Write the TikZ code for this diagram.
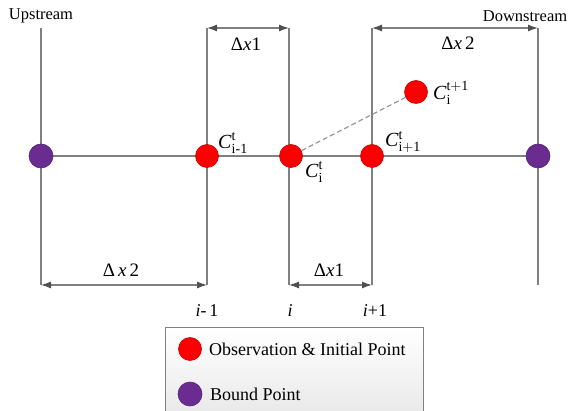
\documentclass[tikz,border=0pt]{standalone}
\usepackage{amsmath}
\usepackage{fontspec}
\setmainfont{Liberation Serif}
\setmathrm{Liberation Serif}
\usetikzlibrary{arrows.meta,backgrounds}
\definecolor{lineg}{RGB}{128,128,128}
\definecolor{dashg}{RGB}{150,150,150}
\definecolor{arrowg}{RGB}{80,80,80}
\definecolor{dotred}{RGB}{250,0,0}
\definecolor{dotpurple}{RGB}{106,44,145}
\tikzset{
  gridline/.style={draw=lineg, line width=1.2pt},
  dimline/.style={draw=lineg, line width=1.2pt, {Latex[length=10pt,width=7pt,color=arrowg]}-{Latex[length=10pt,width=7pt,color=arrowg]}},
  reddot/.style={circle, fill=dotred, draw=red!80!black, line width=0.6pt, minimum size=23pt, inner sep=0pt},
  purpledot/.style={circle, fill=dotpurple, draw=dotpurple!80!black, line width=0.6pt, minimum size=24pt, inner sep=0pt},
  lbl/.style={inner sep=0pt, font=\fontsize{20}{22}\selectfont},
  dimlbl/.style={inner sep=0pt, font=\fontsize{19}{21}\selectfont},
  idx/.style={inner sep=0pt, font=\fontsize{18}{20}\selectfont},
  endlbl/.style={inner sep=0pt, font=\fontsize{16.5}{18}\selectfont},
  legtext/.style={inner sep=0pt, anchor=west, font=\fontsize{18}{20}\selectfont},
  legbox/.style={draw=lineg, line width=1pt, top color=white, bottom color=black!10, inner sep=0pt}
}
\newcommand{\CC}[2]{\textit{C}$^{\mathrm{#1}}_{\mathrm{#2}}$}
\begin{document}
\begin{tikzpicture}[x=1pt,y=-1pt]
\useasboundingbox (0,0) rectangle (572,411);
% grid coordinates
\coordinate (tU) at (41,28);   \coordinate (bU) at (41,285);
\coordinate (tA) at (207,28);  \coordinate (bA) at (207,285);
\coordinate (tB) at (289,28);  \coordinate (bB) at (289,285);
\coordinate (tC) at (372,28);  \coordinate (bC) at (372,285);
\coordinate (tD) at (538,28);  \coordinate (bD) at (538,285);
% dots
\node[purpledot] (up) at (41,156) {};
\node[reddot] (ca) at (207,156) {};
\node[reddot] (cb) at (291,156) {};
\node[reddot] (cc) at (372,156) {};
\node[purpledot] (dn) at (538,156) {};
\node[reddot] (cn) at (416,92) {};
\begin{scope}[on background layer]
  \draw[gridline] (up.center) -- (dn.center);
  \draw[gridline] (tU) -- (bU);
  \draw[gridline] (tA) -- (bA);
  \draw[gridline] (tB) -- (bB);
  \draw[gridline] (tC) -- (bC);
  \draw[gridline] (tD) -- (bD);
\end{scope}
\draw[draw=dashg, line width=1.2pt, dash pattern=on 5pt off 3pt] (cb) -- (cn);
% dimension arrows
\draw[dimline] (tA) -- (tB);
\draw[dimline] (tC) -- (tD);
\draw[dimline] (bU) -- (bA);
\draw[dimline] (bB) -- (bC);
% labels
\node[endlbl] (lup) at (41,16) {Upstream};
\node[endlbl] (ldn) at (525,16) {Downstream};
\node[dimlbl] (d1t) at (246,44) {Δ\textit{x}1};
\node[dimlbl] (d2t) at (458,43) {Δ\textit{x}\,2};
\node[dimlbl] (d2b) at (121,270) {Δ\,\textit{x}\,2};
\node[dimlbl] (d1b) at (329,270) {Δ\textit{x}1};
\node[lbl] (la) at (233,143) {\CC{t}{i\text{-}1}};
\node[lbl] (lb) at (314,172) {\CC{t}{i}};
\node[lbl] (lc) at (403,142) {\CC{t}{i+1}};
\node[lbl] (ln) at (451,93) {\CC{t+1}{i}};
\node[idx] (ia) at (207,311) {\textit{i}-\,1};
\node[idx] (ib) at (290,311) {\textit{i}};
\node[idx] (ic) at (375,311) {\textit{i}+1};
% legend
\node[legbox, minimum width=258pt, minimum height=100pt, anchor=north west] (leg) at (165,327) {};
\node[reddot] (lr) at (190,349) {};
\node[purpledot] (lp) at (190,394) {};
\node[legtext] (tr) at (209,349) {Observation \& Initial Point};
\node[legtext] (tp) at (210,394) {Bound Point};
\end{tikzpicture}
\end{document}
